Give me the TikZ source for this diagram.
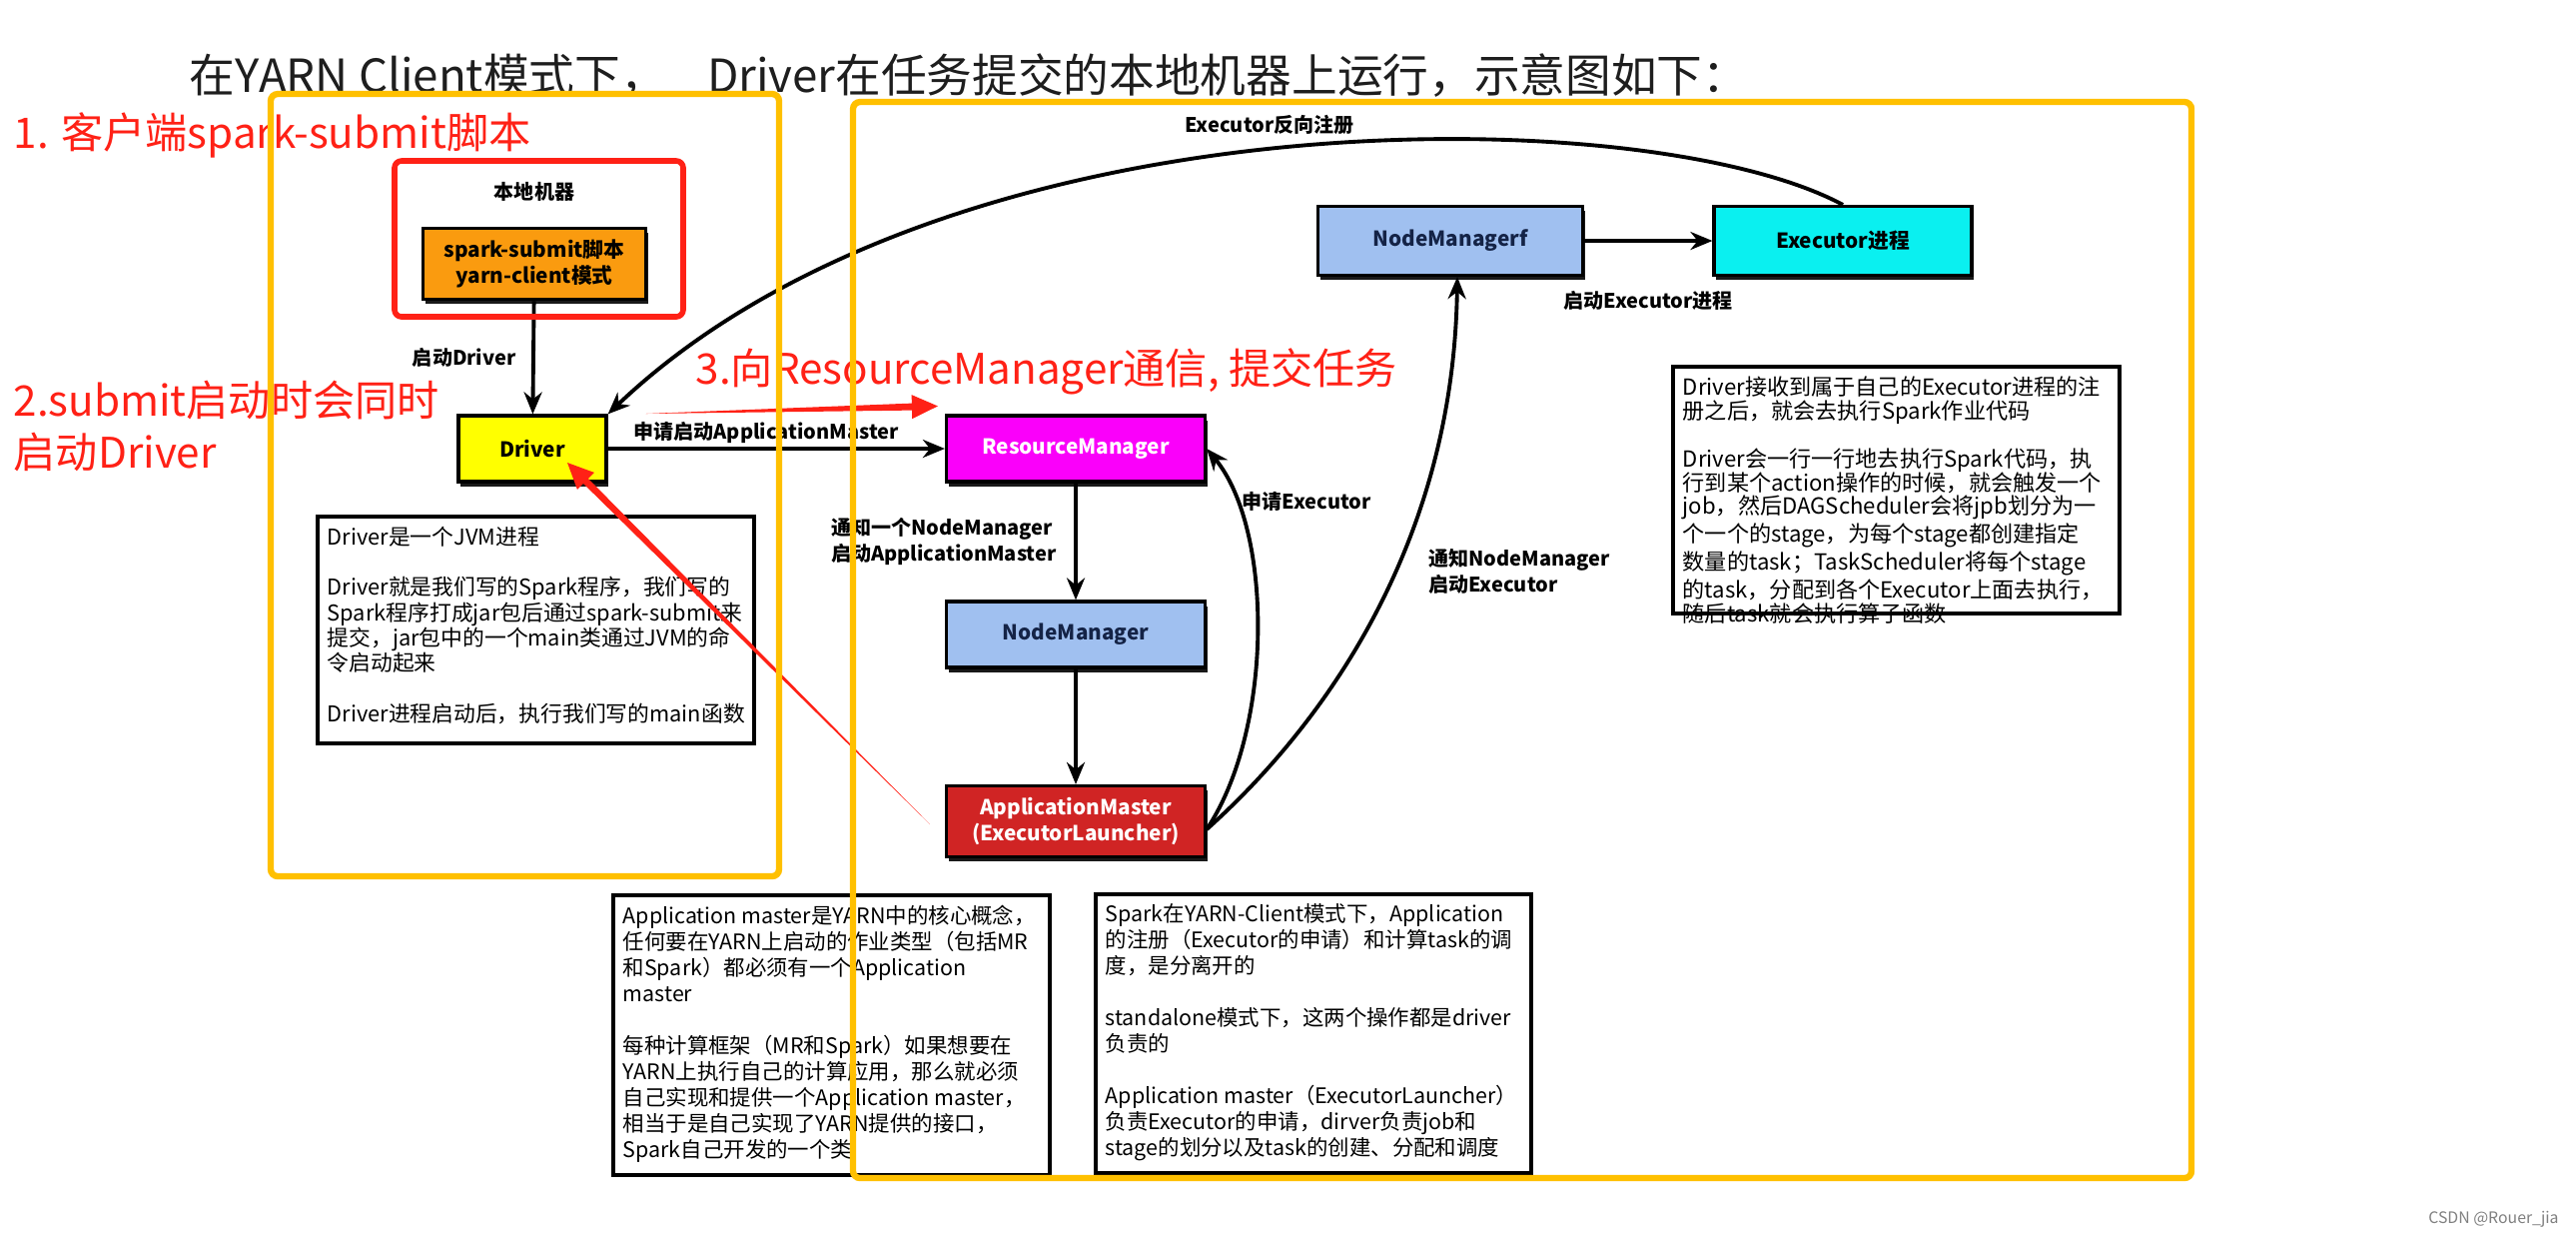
\documentclass[tikz,border=0pt]{standalone}
\usepackage{fontspec}
\setmainfont{Noto Sans CJK SC}
\usetikzlibrary{positioning, arrows.meta, calc, shadows}

\definecolor{frameorange}{RGB}{255,192,0}
\definecolor{annored}{RGB}{255,33,22}
\definecolor{sparkorange}{RGB}{250,155,15}
\definecolor{rmmagenta}{RGB}{250,0,250}
\definecolor{drvyellow}{RGB}{255,255,0}
\definecolor{nmblue}{RGB}{160,192,240}
\definecolor{nmtext}{RGB}{20,35,70}
\definecolor{amred}{RGB}{208,36,36}
\definecolor{execcyan}{RGB}{10,240,240}
\definecolor{titlegray}{RGB}{30,30,30}

% tapered red pointer: #1 tail, #2 tip
\newcommand{\redpointer}[2]{%
  \coordinate (rp-base) at ($(#2)!0.26cm!(#1)$);
  \fill[annored] (#1) -- ($(rp-base)!0.035cm!90:(#2)$) -- ($(rp-base)!0.12cm!90:(#2)$)
    -- (#2) -- ($(rp-base)!0.12cm!-90:(#2)$) -- ($(rp-base)!0.035cm!-90:(#2)$) -- cycle;
}
% note text kept on the given lines
\newcommand{\notetext}[3]{\parbox[t][#2][t]{#1}{\raggedright\hyphenpenalty=10000\relax #3}}

\begin{document}
\begin{tikzpicture}[
    comp/.style={draw=black, line width=0.9pt, minimum width=2.59cm, minimum height=0.66cm,
      align=center, font=\fontsize{5.9}{7.4}\selectfont\bfseries,
      drop shadow={shadow xshift=0.02cm, shadow yshift=-0.045cm, fill=black, opacity=0.9}},
    flow/.style={-{Stealth[length=0.22cm, width=0.18cm]}, line width=1.1pt},
    lbl/.style={font=\fontsize{5.7}{7.2}\selectfont\bfseries, inner sep=1pt, align=left},
    note/.style={draw, line width=1pt, anchor=north west, inner sep=0.1cm},
    frame/.style={draw=frameorange, line width=1.8pt, rounded corners=2pt},
    callout/.style={text=annored, font=\fontsize{12}{14.8}\selectfont, inner sep=0, align=left}
  ]

        \useasboundingbox (0,0) rectangle (25.79,-12.37);
        \fill[white] (0,0) rectangle (25.79,-12.37);

        % Title
        \node[anchor=west, inner sep=0, text=titlegray, font=\fontsize{13}{15}\selectfont] (title) at (1.89,-0.76)
            {在YARN Client模式下，\hspace{0.9em}Driver在任务提交的本地机器上运行，示意图如下：};

        % Local machine
        \node[lbl] (localmachine) at (5.35,-1.92) {本地机器};
        \node[comp, fill=sparkorange, minimum width=2.23cm, minimum height=0.68cm] (spark) at (5.35,-2.64)
            {spark-submit脚本\\yarn-client模式};
        \node[comp, fill=drvyellow, minimum width=1.48cm] (driver) at (5.33,-4.49) {Driver};
        \draw[flow] (spark) -- node[lbl, left, xshift=-0.12cm] (lbldriver) {启动Driver} (driver);

        % YARN side
        \node[comp, fill=rmmagenta, text=white] (rm) at (10.77,-4.49) {ResourceManager};
        \node[comp, fill=nmblue, text=nmtext] (nm) at (10.77,-6.35) {NodeManager};
        \node[comp, fill=amred, text=white, minimum height=0.68cm] (am) at (10.77,-8.22)
            {ApplicationMaster\\(ExecutorLauncher)};
        \node[comp, fill=nmblue, text=nmtext, minimum width=2.65cm, minimum height=0.69cm] (nmf) at (14.52,-2.41) {NodeManagerf};
        \node[comp, fill=execcyan, minimum width=2.58cm, minimum height=0.69cm] (exec) at (18.45,-2.41) {Executor进程};

        \draw[flow] (driver) -- node[lbl, above, xshift=-0.1cm] (lblam) {申请启动ApplicationMaster} (rm);
        \draw[flow] (rm) -- node[lbl, left, xshift=-0.14cm] (lblnotify) {通知一个NodeManager\\启动ApplicationMaster} (nm);
        \draw[flow] (nm) -- (am);
        \draw[flow] (nmf) -- node[lbl, below, yshift=-0.45cm] (lblstart) {启动Executor进程} (exec);

        % Curved connectors
        \draw[flow] ([yshift=-0.08cm]am.east) .. controls (12.75,-7.3) and (12.75,-5.3) .. (rm.east);
        \node[lbl] (lblreq) at (13.08,-5.02) {申请Executor};
        \draw[flow] ([yshift=-0.08cm]am.east) .. controls (13.2,-7.3) and (14.55,-5.5) .. ([xshift=0.07cm]nmf.south);
        \node[lbl, anchor=west] (lblnotify2) at (14.26,-5.72) {通知NodeManager\\启动Executor};
        \draw[flow] (exec.north) .. controls (16.5,-1.0) and (9.5,-0.9) .. (driver.north east);
        \node[lbl] (lblreg) at (12.71,-1.25) {Executor反向注册};

        % Notes
        \node[note, font=\fontsize{6.2}{7.2}\selectfont] (drvnote) at (3.16,-5.15) {\notetext{4.17cm}{2.07cm}{%
            Driver是一个JVM进程\\[7.2pt]
            Driver就是我们写的Spark程序，我们写的\\
            Spark程序打成jar包后通过spark-submit来\\
            提交，jar包中的一个main类通过JVM的命\\
            令启动起来\\[7.2pt]
            Driver进程启动后，执行我们写的main函数}};
        \node[note, font=\fontsize{6.3}{6.8}\selectfont] (execnote) at (16.73,-3.65) {\notetext{4.27cm}{2.27cm}{%
            Driver接收到属于自己的Executor进程的注\\
            册之后，就会去执行Spark作业代码\\[6.8pt]
            Driver会一行一行地去执行Spark代码，执\\
            行到某个action操作的时候，就会触发一个\\
            job，然后DAGScheduler会将jpb划分为一\\
            个一个的stage，为每个stage都创建指定\\
            数量的task；TaskScheduler将每个stage\\
            的task，分配到各个Executor上面去执行，\\
            随后task就会执行算子函数}};
        \node[note, font=\fontsize{6.1}{7.4}\selectfont] (amnote) at (6.12,-8.94) {\notetext{4.17cm}{2.60cm}{%
            Application~master是YARN中的核心概念，\\
            任何要在YARN上启动的作业类型（包括MR\\
            和Spark）都必须有一个Application\\
            master\\[7.4pt]
            每种计算框架（MR和Spark）如果想要在\\
            YARN上执行自己的计算应用，那么就必须\\
            自己实现和提供一个Application~master，\\
            相当于是自己实现了YARN提供的接口，\\
            Spark自己开发的一个类}};
        \node[note, font=\fontsize{6.1}{7.4}\selectfont] (clientnote) at (10.95,-8.93) {\notetext{4.16cm}{2.59cm}{%
            Spark在YARN-Client模式下，Application\\
            的注册（Executor的申请）和计算task的调\\
            度，是分离开的\\[7.4pt]
            standalone模式下，这两个操作都是driver\\
            负责的\\[7.4pt]
            Application~master（ExecutorLauncher）\\
            负责Executor的申请，dirver负责job和\\
            stage的划分以及task的创建、分配和调度}};

        % Red annotations
        \draw[draw=annored, line width=1.6pt, rounded corners=2pt] (3.95,-1.61) rectangle (6.84,-3.17);
        \node[callout, anchor=west] (step1) at (0.13,-1.35) {1. 客户端spark-submit脚本};
        \node[callout, anchor=west] (step2) at (0.13,-4.26) {2.submit启动时会同时\\启动Driver};
        \node[callout, anchor=west] (step3) at (6.96,-3.72) {3.向ResourceManager通信, 提交任务};
        \coordinate (r2tail) at ([xshift=-0.15cm, yshift=-0.03cm]am.west);
        \coordinate (r2tip) at ([shift={(0.35,-0.14)}]driver.center);
        \coordinate (r3tail) at ([shift={(0.38,0.35)}]driver.east);
        \coordinate (r3tip) at ([shift={(-0.07,0.08)}]rm.north west);
        \redpointer{r2tail}{r2tip}
        \redpointer{r3tail}{r3tip}

        % Orange frames
        \draw[frame] (2.71,-0.94) rectangle (7.80,-8.77);
        \draw[frame] (8.54,-1.02) rectangle (21.94,-11.79);

        \node[anchor=east, text=gray, font=\fontsize{4.5}{5}\selectfont] (csdn) at (25.74,-12.20) {CSDN @Rouer\_jia};

    \end{tikzpicture}
\end{document}
